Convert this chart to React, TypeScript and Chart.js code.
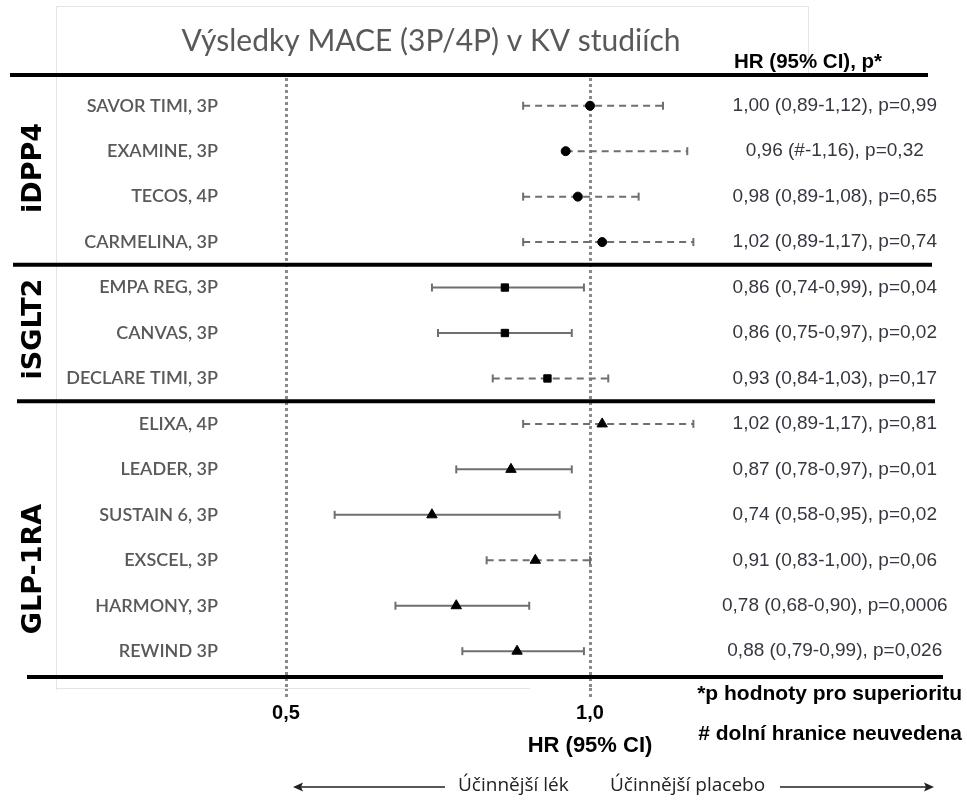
import React, { useEffect, useRef } from "react";
import { Chart, registerables } from "chart.js";

Chart.register(...registerables);

// Cardiovascular outcome trials, top to bottom
const studies = [
  "SAVOR TIMI, 3P",
  "EXAMINE, 3P",
  "TECOS, 4P",
  "CARMELINA, 3P",
  "EMPA REG, 3P",
  "CANVAS, 3P",
  "DECLARE TIMI, 3P",
  "ELIXA, 4P",
  "LEADER, 3P",
  "SUSTAIN 6, 3P",
  "EXSCEL, 3P",
  "HARMONY, 3P",
  "REWIND 3P",
];
const groupNames = ["iDPP4", "iSGLT2", "GLP-1RA"];
const groupSizes = [4, 3, 6];
const hr = [1.0, 0.96, 0.98, 1.02, 0.86, 0.86, 0.93, 1.02, 0.87, 0.74, 0.91, 0.78, 0.88];
const ciLow: (number | null)[] = [0.89, null, 0.89, 0.89, 0.74, 0.75, 0.84, 0.89, 0.78, 0.58, 0.83, 0.68, 0.79];
const ciHigh = [1.12, 1.16, 1.08, 1.17, 0.99, 0.97, 1.03, 1.17, 0.97, 0.95, 1.0, 0.9, 0.99];
const pValues = [0.99, 0.32, 0.65, 0.74, 0.04, 0.02, 0.17, 0.81, 0.01, 0.02, 0.06, 0.0006, 0.026];
const xTicks = [0.5, 1.0];

const SANS = "'Liberation Sans', Arial, sans-serif";
const HUMAN = "Lato, 'Liberation Sans', sans-serif";
const SOFT = "'Open Sans', 'Noto Sans', sans-serif";
const GREY_LINE = "#6f6f6f";

const comma = (v: number, d: number) => v.toFixed(d).replace(".", ",");
const pText = (p: number) => String(p).replace(".", ",");

const hrLabels = studies.map(
  (_, i) =>
    `${comma(hr[i], 2)} (${ciLow[i] == null ? "#" : comma(ciLow[i] as number, 2)}-${comma(ciHigh[i], 2)}), p=${pText(pValues[i])}`
);

// group index of every study row
const groupOf: number[] = [];
groupSizes.forEach((n, g) => {
  for (let k = 0; k < n; k++) groupOf.push(g);
});

const markerStyles = ["circle", "rect", "triangle"];
const markerRadius = [4.5, 5.2, 6];

const rowTicks = (scale: any) => {
  scale.ticks = studies.map((_, i) => ({ value: i }));
};

const decorPlugin = {
  id: "decor",
  beforeDatasetsDraw(chart: any) {
    const { ctx } = chart;
    const y = chart.scales.y;
    ctx.save();

    // faint panel frame
    ctx.strokeStyle = "#e4e4e4";
    ctx.lineWidth = 1;
    ctx.beginPath();
    ctx.moveTo(56.5, 690);
    ctx.lineTo(56.5, 6.5);
    ctx.lineTo(808.5, 6.5);
    ctx.lineTo(808.5, 75);
    ctx.moveTo(56, 688.5);
    ctx.lineTo(530, 688.5);
    ctx.stroke();

    // heavy rules between drug classes
    const cum: number[] = [0];
    groupSizes.forEach((n) => cum.push(cum[cum.length - 1] + n));
    const ruleY = cum.map((c, k) => {
      const base = y.getPixelForValue(c - 0.5);
      if (k === 0) return base - 8;
      if (k === cum.length - 1) return base + 3;
      return base;
    });
    const spans = [
      [10, 928],
      [13, 932],
      [17, 935],
      [27, 943],
    ];
    ctx.strokeStyle = "#000";
    ctx.lineWidth = 4;
    ruleY.forEach((py, k) => {
      ctx.beginPath();
      ctx.moveTo(spans[k][0], py);
      ctx.lineTo(spans[k][1], py);
      ctx.stroke();
    });
    ctx.restore();
  },
  afterDraw(chart: any) {
    const { ctx } = chart;
    const x = chart.scales.x;
    ctx.save();

    // title
    ctx.fillStyle = "#595959";
    ctx.font = `30px ${HUMAN}`;
    ctx.textAlign = "center";
    ctx.textBaseline = "alphabetic";
    ctx.fillText("Výsledky MACE (3P/4P) v KV studiích", 431, 51);

    // column header
    ctx.fillStyle = "#000";
    ctx.font = `bold 20.5px ${SANS}`;
    ctx.textAlign = "left";
    ctx.textBaseline = "middle";
    ctx.fillText("HR (95% CI), p*", 734, 62);

    // drug class labels, rotated
    const groupCentres = [168, 329, 569];
    ctx.font = `bold 27px 'DejaVu Sans', sans-serif`;
    ctx.textAlign = "center";
    groupNames.forEach((g, k) => {
      ctx.save();
      ctx.translate(34, groupCentres[k]);
      ctx.rotate(-Math.PI / 2);
      ctx.fillText(g, 0, 0);
      ctx.restore();
    });

    // axis title under HR = 1
    ctx.font = `bold 22px ${SANS}`;
    ctx.textAlign = "center";
    ctx.fillText("HR (95% CI)", x.getPixelForValue(1.0), 746);

    // footnotes
    ctx.font = `bold 21px ${SANS}`;
    ctx.textAlign = "right";
    ctx.fillText("*p hodnoty pro superioritu", 962, 694);
    ctx.fillText("# dolní hranice neuvedena", 962, 734);

    // direction arrows
    const ay = 787;
    ctx.strokeStyle = "#222";
    ctx.fillStyle = "#222";
    ctx.lineWidth = 1.6;
    ctx.beginPath();
    ctx.moveTo(296, ay);
    ctx.lineTo(445, ay);
    ctx.moveTo(780, ay);
    ctx.lineTo(930, ay);
    ctx.stroke();
    ctx.beginPath();
    ctx.moveTo(293, ay);
    ctx.lineTo(303, ay - 4.5);
    ctx.lineTo(301, ay);
    ctx.lineTo(303, ay + 4.5);
    ctx.closePath();
    ctx.fill();
    ctx.beginPath();
    ctx.moveTo(934, ay);
    ctx.lineTo(924, ay - 4.5);
    ctx.lineTo(926, ay);
    ctx.lineTo(924, ay + 4.5);
    ctx.closePath();
    ctx.fill();

    ctx.font = `19px ${SOFT}`;
    ctx.fillStyle = "#222";
    ctx.textAlign = "left";
    ctx.fillText("Účinnější lék", 458, ay - 1);
    ctx.fillText("Účinnější placebo", 610, ay - 1);

    ctx.restore();
  },
};

export default function App() {
  const ref = useRef<HTMLCanvasElement | null>(null);

  useEffect(() => {
    if (!ref.current) return;

    const markerSets = groupNames.map((_, g) => ({
      label: groupNames[g],
      data: studies
        .map((_, i) => ({ x: hr[i], y: i, g: groupOf[i] }))
        .filter((p) => p.g === g)
        .map((p) => ({ x: p.x, y: p.y })),
      pointStyle: markerStyles[g],
      pointRadius: markerRadius[g],
      pointBackgroundColor: "#000",
      pointBorderColor: "#000",
      pointBorderWidth: 1,
      showLine: false,
      order: 0,
    }));

    const ciSets = studies.map((name, i) => {
      const lo = ciLow[i];
      return {
        label: name,
        data: [
          { x: lo == null ? hr[i] : lo, y: i },
          { x: ciHigh[i], y: i },
        ],
        showLine: true,
        borderColor: GREY_LINE,
        borderWidth: 2,
        borderDash: pValues[i] >= 0.05 ? [7, 5] : [],
        pointStyle: "line",
        rotation: 90,
        pointRadius: lo == null ? [0, 4] : 4,
        pointBorderColor: GREY_LINE,
        pointBorderWidth: 2,
        order: 1,
      };
    });

    const chart = new Chart(ref.current, {
      type: "scatter",
      data: { datasets: [...markerSets, ...ciSets] as any },
      plugins: [decorPlugin],
      options: {
        animation: false,
        responsive: false,
        devicePixelRatio: 1,
        layout: { padding: { top: 78, left: 0, right: 0, bottom: 0 } },
        plugins: { legend: { display: false }, tooltip: { enabled: false } },
        scales: {
          x: {
            type: "linear",
            position: "bottom",
            min: 0.4243,
            max: 1.1809,
            afterBuildTicks: (s: any) => {
              s.ticks = xTicks.map((v) => ({ value: v }));
            },
            afterFit: (s: any) => {
              s.height = 115;
            },
            ticks: {
              callback: (v: any) => comma(Number(v), 1),
              font: { family: SANS, size: 20, weight: "bold" },
              color: "#000",
              padding: 1,
              maxRotation: 0,
              autoSkip: false,
            },
            grid: {
              color: "#8a8a8a",
              lineWidth: 3,
              drawTicks: true,
              tickLength: 12,
              tickWidth: 3,
              tickColor: "#8a8a8a",
              tickBorderDash: [3, 3],
            },
            border: { display: false, dash: [3, 3] },
          },
          y: {
            type: "linear",
            position: "left",
            reverse: true,
            min: -0.61,
            max: 12.81,
            afterBuildTicks: rowTicks,
            afterFit: (s: any) => {
              s.width = 240;
            },
            ticks: {
              autoSkip: false,
              callback: (v: any) => studies[Number(v)] ?? "",
              font: { family: HUMAN, size: 18, weight: "600" },
              color: "#595959",
              padding: 22,
            },
            grid: { display: false, drawTicks: false },
            border: { display: false },
          },
          yR: {
            type: "linear",
            display: true,
            position: "right",
            reverse: true,
            min: -0.61,
            max: 12.81,
            afterBuildTicks: rowTicks,
            afterFit: (s: any) => {
              s.width = 267;
            },
            ticks: {
              autoSkip: false,
              callback: (v: any) => hrLabels[Number(v)] ?? "",
              font: { family: SANS, size: 19 },
              color: "#363640",
              crossAlign: "center",
              padding: 22,
            },
            grid: { display: false, drawTicks: false },
            border: { display: false },
          },
        },
      } as any,
    });

    return () => chart.destroy();
  }, []);

  return (
    <div style={{ position: "absolute", left: 0, top: 0, width: 967, height: 803, background: "#fff" }}>
      <canvas ref={ref} width={967} height={803} style={{ display: "block" }} />
    </div>
  );
}
